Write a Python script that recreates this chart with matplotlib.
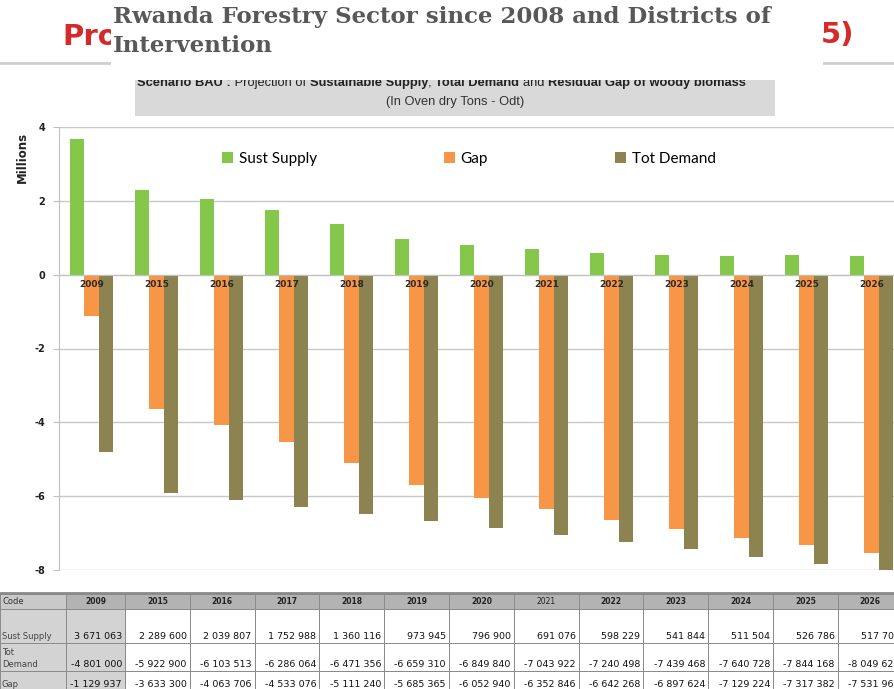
import matplotlib

matplotlib.use('Agg')
import matplotlib.pyplot as plt
import numpy as np
from matplotlib.patches import Rectangle

# data (oven dry tons)
years = ['2009', '2015', '2016', '2017', '2018', '2019', '2020',
         '2021', '2022', '2023', '2024', '2025', '2026']
sust_supply = [3671063, 2289600, 2039807, 1752988, 1360116, 973945, 796900,
               691076, 598229, 541844, 511504, 526786, 517702]
tot_demand = [-4801000, -5922900, -6103513, -6286064, -6471356, -6659310, -6849840,
              -7043922, -7240498, -7439468, -7640728, -7844168, -8049620]
gap = [-1129937, -3633300, -4063706, -4533076, -5111240, -5685365, -6052940,
       -6352846, -6642268, -6897624, -7129224, -7317382, -7531960]
series_names = ['Sust Supply', 'Gap', 'Tot Demand']
row_labels = ['Sust Supply', 'Tot\nDemand', 'Gap']

GREEN, ORANGE, OLIVE = '#84c74a', '#f79646', '#8c8350'
W, H = 895, 689

fig = plt.figure(figsize=(W / 100, H / 100), dpi=100)

# background layer in pixel coordinates (slide decoration + table)
bg = fig.add_axes([0, 0, 1, 1])
bg.set_xlim(0, W)
bg.set_ylim(H, 0)
bg.axis('off')

# slide header partly covered by the title box
bg.plot([0, W], [63, 63], color='#cfcfcf', lw=2, zorder=1)
bg.text(62, 37, 'Pro', color='#d42a2a', fontsize=21, fontweight='bold', va='center', zorder=1)
bg.text(821, 35, '5)', color='#d42a2a', fontsize=21, fontweight='bold', va='center', zorder=1)
bg.add_patch(Rectangle((111, 0), 712, 72, facecolor='white', edgecolor='none', zorder=2))
bg.text(113, 23, 'Rwanda Forestry Sector since 2008 and Districts of',
        family='DejaVu Serif', fontweight='bold', fontsize=16.5, color='#585858',
        va='baseline', ha='left', zorder=3)
bg.text(113, 52, 'Intervention',
        family='DejaVu Serif', fontweight='bold', fontsize=16.5, color='#585858',
        va='baseline', ha='left', zorder=3)

# grey caption box, first line cut off at its top
bg.add_patch(Rectangle((135, 78), 640, 38, facecolor='#d9d9d9', edgecolor='none', zorder=1))
parts = [('Scenario BAU :', 'bold'), (' Projection of ', 'normal'),
         ('Sustainable Supply', 'bold'), (', ', 'normal'), ('Total Demand ', 'bold'),
         ('and ', 'normal'), ('Residual Gap of woody biomass', 'bold')]
prev = None
for txt, wt in parts:
    if prev is None:
        t = bg.text(137, 86, txt, fontsize=9.3, fontweight=wt, color='#222222',
                    va='baseline', ha='left', zorder=1.5, family='Liberation Sans')
    else:
        t = bg.annotate(txt, xy=(1, 0), xycoords=prev, fontsize=9.3, fontweight=wt,
                        color='#222222', va='bottom', ha='left', zorder=1.5,
                        family='Liberation Sans')
    prev = t
# white strip hiding the top of the first caption line
bg.add_patch(Rectangle((130, 65), 650, 14.5, facecolor='white', edgecolor='none', zorder=1.8))
bg.text(455, 102, '(In Oven dry Tons - Odt)', fontsize=9.3, color='#333333',
        ha='center', va='center', zorder=2, family='Liberation Sans')

# chart
left_px, top_px, bottom_px, step_px = 59, 127, 570, 65
ax = fig.add_axes([left_px / W, 1 - bottom_px / H, (W - left_px) / W, (bottom_px - top_px) / H])
ax.set_facecolor('none')
x = np.arange(len(years))
w = 0.22
b1 = ax.bar(x - w, np.array(sust_supply) / 1e6, w, color=GREEN, zorder=1)
b2 = ax.bar(x, np.array(gap) / 1e6, w, color=ORANGE, zorder=1)
b3 = ax.bar(x + w, np.array(tot_demand) / 1e6, w, color=OLIVE, zorder=1)

ax.set_xlim(-0.5, -0.5 + (W - left_px) / step_px)
ax.set_ylim(-8, 4)
yt = np.arange(-8, 5, 2)
ax.set_yticks(yt, [str(v) for v in yt])
for v in yt:
    ax.axhline(v, color='#c8c8c8', lw=1, zorder=0.5)

for s in ['top', 'right']:
    ax.spines[s].set_visible(False)
ax.spines['left'].set_color('#c0c0c0')
ax.spines['bottom'].set_position(('data', 0))
ax.spines['bottom'].set_color('#c0c0c0')

ax.set_xticks(x, years)
ax.tick_params(axis='x', length=0, pad=4, labelsize=6.5, labelcolor='#2a2a2a')
for lab in ax.get_xticklabels():
    lab.set_fontweight('bold')
ax.tick_params(axis='y', length=4, color='#c0c0c0', pad=6, labelsize=7, labelcolor='#222222')
for lab in ax.get_yticklabels():
    lab.set_fontweight('bold')
fig.text(22 / W, 1 - 157 / H, 'Millions', rotation=90, fontsize=8.5, fontweight='bold',
         ha='center', va='center', color='#222222')

ax.legend([b1, b2, b3], series_names, ncol=3, loc='center left',
          bbox_to_anchor=(222 / W, 1 - 159 / H), bbox_transform=fig.transFigure,
          frameon=False, handlelength=0.75, handleheight=0.75,
          handletextpad=0.35, columnspacing=8.3, borderpad=0, borderaxespad=0,
          prop={'family': 'Lato', 'size': 11})

# data table under the chart
edges = [0, 66, 125]
while len(edges) < len(years) + 2:
    edges.append(edges[-1] + 64.8)
rows = [594, 609, 643, 671, 700]
text_base = [639, 667, 687]
values = [sust_supply, tot_demand, gap]

for j in range(len(edges) - 1):
    x0, x1 = edges[j], edges[j + 1]
    for i in range(len(rows) - 1):
        y0, y1 = rows[i], rows[i + 1]
        if i == 0:
            fc = '#c9c9c9' if j == 0 else '#b3b3b3'
        elif j <= 1:
            fc = '#d3d3d3'
        else:
            fc = 'white'
        bg.add_patch(Rectangle((x0, y0), x1 - x0, y1 - y0, facecolor=fc,
                               edgecolor='#8a8a8a', lw=0.7, zorder=1))

bg.plot([0, W], [593, 593], color='#8a8a8a', lw=2, zorder=2)
bg.text(3, 601.5, 'Code', fontsize=6, color='#333333', va='center', ha='left', zorder=3)
for j, yr in enumerate(years):
    cx = (edges[j + 1] + edges[j + 2]) / 2
    bg.text(cx, 601.5, yr, fontsize=5.5, fontweight='normal' if yr == '2021' else 'bold',
            color='#222222', ha='center', va='center', zorder=3)
for i, lab in enumerate(row_labels):
    bg.text(2, text_base[i], lab, fontsize=6, color='#444444', ha='left',
            va='baseline', linespacing=1.4, zorder=3)
    for j, v in enumerate(values[i]):
        s = f'{v:,}'.replace(',', ' ')
        bg.text(edges[j + 2] - 3, text_base[i], s, fontsize=6.8,
                color='#111111', ha='right', va='baseline', zorder=3)

fig.savefig('out.png', dpi=100)
